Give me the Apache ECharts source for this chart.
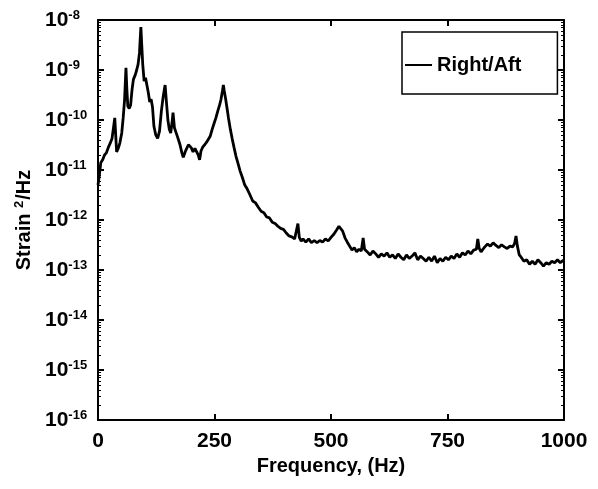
<!DOCTYPE html>
<html><head><meta charset="utf-8">
<script src="https://cdn.jsdelivr.net/npm/echarts@6/dist/echarts.min.js"></script>
<style>html,body{margin:0;padding:0;background:#fff}#c{width:598px;height:489px}</style>
</head><body><div id="c"></div>
<script>
// ---- data ----
const seriesName = 'Right/Aft';
const frequencyHz = [
  0,3,6,10,14,18,22,26,30,33,36,38,40,44,47,51,54,57,60,62,64,67,70,73,76,80,83,86,89,91,92,94,96,99,
  102,105,108,111,114,117,120,124,128,132,136,140,144,147,150,153,156,159,161,164,167,171,176,180,183,
  187,191,194,197,200,204,208,212,215,218,221,225,229,233,237,241,245,249,253,257,261,264,267,269,271,
  274,277,280,284,288,292,296,300,305,310,315,320,326,332,338,344,350,356,362,368,374,380,386,392,398,
  404,410,416,422,426,429,432,436,440,446,452,458,464,470,476,482,488,494,500,506,512,517,521,525,530,
  535,540,545,550,555,560,565,569,572,578,584,590,596,602,608,614,620,626,632,638,644,650,656,662,668,
  674,680,686,692,698,704,710,716,722,728,734,740,746,752,758,764,770,776,782,788,794,800,806,812,815,
  818,822,826,830,836,842,848,854,860,866,872,878,884,890,894,897,900,904,908,914,920,926,932,938,944,
  950,956,962,968,974,980,986,992,996,1000
];
const strainPsd = [
  5.0e-12,8e-12,1.4e-11,1.6e-11,2.0e-11,2.2e-11,2.8e-11,3.4e-11,4.2e-11,4.0e-11,1.1e-10,5e-11,2.3e-11,2.8e-11,
  3.5e-11,5.5e-11,1.1e-10,2.5e-10,1.1e-9,4e-10,1.9e-10,1.7e-10,2.0e-10,4e-10,6.5e-10,8e-10,1.0e-9,1.3e-9,
  2.2e-9,5e-9,7.2e-9,3e-9,1.3e-9,6e-10,
  7e-10,6.8e-10,3.5e-10,2.3e-10,2.6e-10,1.8e-10,7.5e-11,5e-11,4.3e-11,6e-11,1.5e-10,3e-10,5e-10,2.2e-10,
  1e-10,6.5e-11,5.5e-11,9e-11,1.4e-10,7e-11,5.8e-11,4.5e-11,3.2e-11,2.2e-11,1.8e-11,
  2.3e-11,2.5e-11,3.2e-11,3.5e-11,2.8e-11,2.3e-11,2.7e-11,2.8e-11,2.0e-11,1.6e-11,2.4e-11,2.9e-11,3.2e-11,
  3.6e-11,3.8e-11,4.8e-11,6.5e-11,8.5e-11,1.1e-10,1.5e-10,2.0e-10,2.6e-10,3.8e-10,5e-10,3.8e-10,
  2.6e-10,1.7e-10,1.1e-10,6.5e-11,4.2e-11,2.8e-11,1.9e-11,1.4e-11,9.5e-12,7e-12,5.0e-12,4.2e-12,3.2e-12,
  2.4e-12,2.2e-12,1.8e-12,1.5e-12,1.4e-12,1.15e-12,1.1e-12,9e-13,8.5e-13,7.5e-13,6.8e-13,6.5e-13,
  5.5e-13,4.8e-13,4.6e-13,4.2e-13,4.5e-13,8.5e-13,4.5e-13,3.8e-13,4.2e-13,3.6e-13,4.2e-13,3.5e-13,3.9e-13,
  3.5e-13,3.9e-13,3.6e-13,4.2e-13,3.8e-13,4.5e-13,5.2e-13,6.3e-13,7.5e-13,7.8e-13,6e-13,4.4e-13,
  3.6e-13,3.0e-13,2.5e-13,2.8e-13,2.3e-13,2.6e-13,2.4e-13,4.4e-13,2.6e-13,2.3e-13,2.0e-13,2.4e-13,2.1e-13,
  1.8e-13,2.1e-13,1.9e-13,2.2e-13,1.8e-13,2.0e-13,1.7e-13,2.1e-13,1.8e-13,1.6e-13,2.0e-13,1.7e-13,
  1.9e-13,2.2e-13,1.6e-13,1.9e-13,1.7e-13,1.5e-13,1.8e-13,1.5e-13,1.9e-13,1.4e-13,1.7e-13,1.5e-13,1.8e-13,
  1.6e-13,1.9e-13,1.7e-13,2.1e-13,1.8e-13,2.2e-13,2.0e-13,2.4e-13,2.1e-13,2.5e-13,2.6e-13,4.2e-13,
  2.7e-13,2.3e-13,2.6e-13,2.9e-13,3.3e-13,3.0e-13,3.5e-13,3.1e-13,2.8e-13,3.2e-13,2.9e-13,2.7e-13,3.0e-13,
  2.9e-13,3.4e-13,4.8e-13,3.0e-13,2.0e-13,1.8e-13,1.5e-13,1.6e-13,1.3e-13,1.5e-13,1.3e-13,1.6e-13,
  1.4e-13,1.2e-13,1.4e-13,1.3e-13,1.5e-13,1.4e-13,1.6e-13,1.4e-13,1.5e-13,1.6e-13
];
const xTickValues = [0, 250, 500, 750, 1000];
const yDecadeTicks = [1e-16, 1e-15, 1e-14, 1e-13, 1e-12, 1e-11, 1e-10, 1e-9, 1e-8];
const xAxisTitle = 'Frequency, (Hz)';

// ---- chart ----
const FONT = '"Liberation Sans", Arial, Helvetica, sans-serif';
const minorTickValues = [];
for (let i = 0; i < yDecadeTicks.length - 1; i++) {
  for (let k = 2; k <= 9; k++) minorTickValues.push(k * yDecadeTicks[i]);
}
const seriesData = frequencyHz.map((f, i) => [f, strainPsd[i]]);
const black = '#000';
const lineStyle = { color: black, width: 2 };
const tickStyle = { show: true, inside: true, length: 6, lineStyle: { color: black, width: 2 } };

function yAxisBase(position) {
  return {
    type: 'log', logBase: 10, min: 1e-16, max: 1e-8, splitNumber: 8, position: position,
    splitLine: { show: false },
    axisLine: { show: true, onZero: false, lineStyle: lineStyle },
    axisTick: tickStyle
  };
}
function yMinorAxis(position) {
  return {
    type: 'log', logBase: 10, min: 1e-16, max: 1e-8, splitNumber: 8, position: position,
    splitLine: { show: false },
    axisLine: { show: false, onZero: false },
    axisTick: { show: true, inside: true, length: 3, lineStyle: { color: black, width: 1 }, customValues: minorTickValues },
    axisLabel: { show: false }
  };
}

const chart = echarts.init(document.getElementById('c'), null, { renderer: 'canvas' });
chart.setOption({
  animation: false,
  backgroundColor: '#fff',
  grid: { left: 98, top: 20, right: 34, bottom: 69 },
  legend: {
    data: [seriesName], left: 402, top: 32,
    icon: 'rect', itemWidth: 27, itemHeight: 2, itemGap: 0,
    padding: [23, 36, 19, 3],
    borderColor: black, borderWidth: 1.5, backgroundColor: '#fff',
    textStyle: { fontSize: 20, fontWeight: 'bold', fontFamily: FONT, color: black, lineHeight: 20 }
  },
  xAxis: [
    {
      type: 'value', min: 0, max: 1000, interval: 250, position: 'bottom',
      axisLine: { onZero: false, lineStyle: lineStyle },
      axisTick: tickStyle,
      axisLabel: { margin: 11, fontSize: 21, fontWeight: 'bold', fontFamily: FONT, color: black,
        formatter: v => xTickValues.indexOf(v) >= 0 ? String(v) : '' },
      splitLine: { show: false },
      name: xAxisTitle, nameLocation: 'middle', nameGap: 36,
      nameTextStyle: { fontSize: 20, fontWeight: 'bold', fontFamily: FONT, color: black }
    },
    {
      type: 'value', min: 0, max: 1000, interval: 250, position: 'top',
      axisLine: { onZero: false, lineStyle: lineStyle },
      axisTick: tickStyle,
      axisLabel: { show: false }, splitLine: { show: false }
    }
  ],
  yAxis: [
    Object.assign(yAxisBase('left'), {
      axisLabel: {
        align: 'left', margin: 53,
        formatter: v => '{b|10}{s|' + Math.round(Math.log10(v)) + '}',
        rich: {
          b: { fontSize: 21, fontWeight: 'bold', fontFamily: FONT, color: black, lineHeight: 22 },
          s: { fontSize: 13, fontWeight: 'bold', fontFamily: FONT, color: black, lineHeight: 13, verticalAlign: 'top', padding: [0, 0, 6, 0] }
        }
      },
      name: '{a|Strain }{s|2}{a|/Hz}', nameLocation: 'middle', nameGap: 55,
      nameTextStyle: {
        rich: {
          a: { fontSize: 20, fontWeight: 'bold', fontFamily: FONT, color: black, lineHeight: 22 },
          s: { fontSize: 13, fontWeight: 'bold', fontFamily: FONT, color: black, lineHeight: 13, verticalAlign: 'top', padding: [0, 1, 6, 0] }
        }
      }
    }),
    Object.assign(yAxisBase('right'), { axisLabel: { show: false } }),
    yMinorAxis('left'),
    yMinorAxis('right')
  ],
  series: [{
    name: seriesName, type: 'line', xAxisIndex: 0, yAxisIndex: 0,
    data: seriesData, symbol: 'none', showSymbol: false,
    lineStyle: { color: black, width: 2.8 }, itemStyle: { color: black }
  }]
});
</script>
</body></html>
